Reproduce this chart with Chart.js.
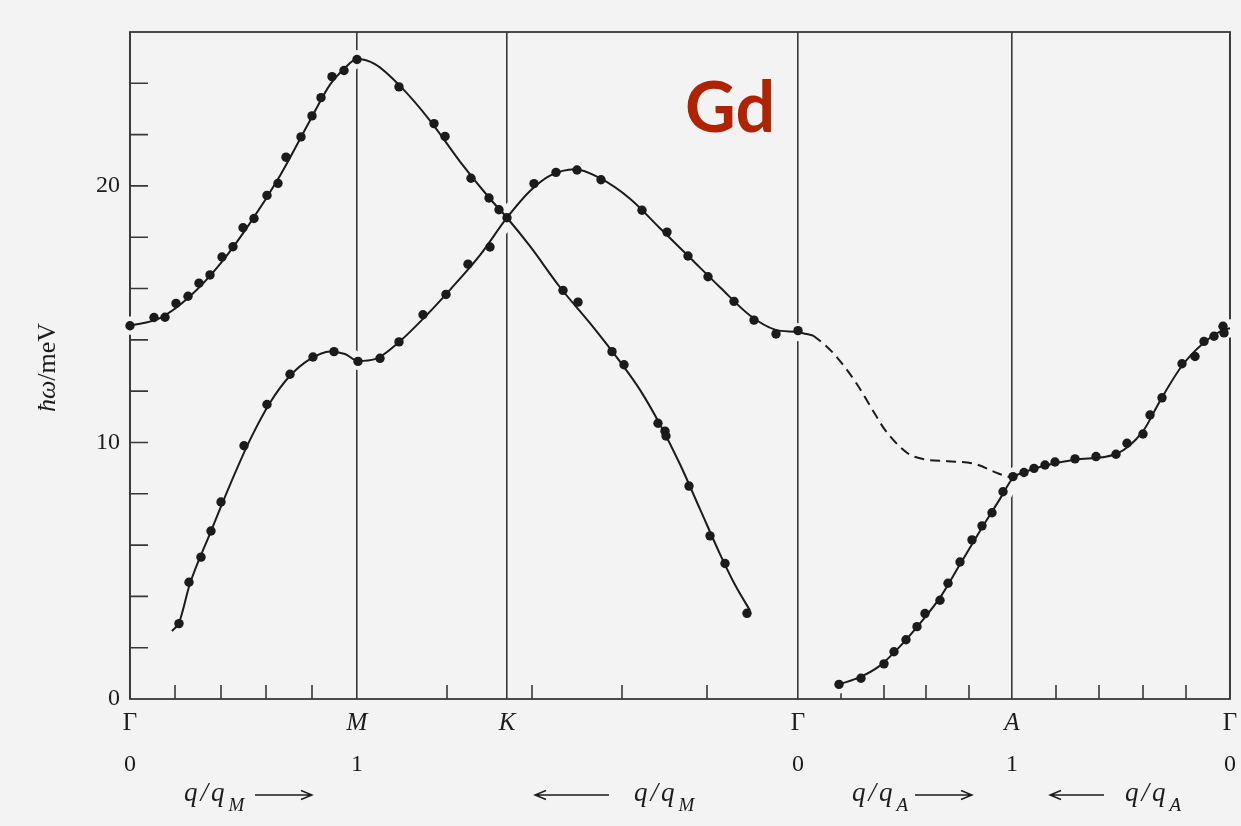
<!DOCTYPE html>
<html>
<head>
<meta charset="utf-8">
<title>Gd – phonon dispersion</title>
<script src="https://cdn.jsdelivr.net/npm/chart.js@4.4.1/dist/chart.umd.min.js"></script>
<style>
  html, body { margin: 0; padding: 0; background: #f3f3f3; }
  canvas { display: block; }
</style>
</head>
<body>
<canvas id="chart" width="1241" height="826"></canvas>
<script>
// Path coordinate s along Γ–M–K–Γ–A–Γ, energy ħω in meV.
const symPos   = [0, 2.27, 3.77, 6.68, 8.82, 11.0];
const symNames = ['Γ', 'M', 'K', 'Γ', 'A', 'Γ'];
const symQ     = ['0', '1', '', '0', '1', '0'];
const minorTicksX = [0.45, 0.91, 1.36, 1.82, 3.17, 4.02, 4.92, 5.77,
                     7.11, 7.54, 7.96, 8.39, 9.26, 9.69, 10.13, 10.56];
const yLabelled = [0, 10, 20];

// Upper band: Γ → M (peak) → K → towards Γ
const upperPts = [
  [0.00,14.55],[0.24,14.87],[0.35,14.88],[0.46,15.42],[0.58,15.70],[0.69,16.21],
  [0.80,16.53],[0.92,17.23],[1.03,17.63],[1.13,18.37],[1.24,18.73],[1.37,19.63],
  [1.48,20.10],[1.56,21.12],[1.71,21.91],[1.82,22.73],[1.91,23.44],[2.02,24.26],
  [2.14,24.50],[2.27,24.93],[2.69,23.86],[3.04,22.43],[3.15,21.93],[3.41,20.30],
  [3.59,19.53],[3.69,19.07],[3.77,18.76],[4.33,15.93],[4.48,15.47],[4.82,13.54],
  [4.94,13.03],[5.28,10.75],[5.35,10.44],[5.36,10.25],[5.59,8.30],[5.80,6.36],
  [5.95,5.28],[6.17,3.34]
];
const upperCurve = [
  [0,14.55],[0.3,14.85],[0.6,15.7],[0.9,16.95],[1.2,18.55],[1.5,20.4],[1.8,22.55],
  [2.0,23.95],[2.15,24.6],[2.27,24.95],[2.45,24.75],[2.7,23.9],[3.0,22.55],[3.3,20.95],
  [3.6,19.5],[3.77,18.76],[4.0,17.65],[4.3,16.05],[4.6,14.65],[4.9,13.15],[5.1,12.05],
  [5.3,10.7],[5.5,9.15],[5.7,7.4],[5.9,5.65],[6.05,4.45],[6.2,3.45]
];

// Lower band: acoustic rise from Γ, dip at M, maximum between K and Γ
const lowerPts = [
  [0.49,2.94],[0.59,4.55],[0.71,5.53],[0.81,6.55],[0.91,7.68],[1.14,9.87],[1.37,11.48],
  [1.60,12.66],[1.83,13.33],[2.04,13.54],[2.28,13.16],[2.50,13.28],[2.69,13.92],
  [2.93,14.98],[3.16,15.77],[3.38,16.95],[3.60,17.62],[4.04,20.09],[4.26,20.53],
  [4.47,20.62],[4.71,20.24],[5.12,19.05],[5.37,18.20],[5.58,17.27],[5.78,16.46],
  [6.04,15.50],[6.24,14.77],[6.46,14.23],[6.68,14.36]
];
const lowerCurve = [
  [0.42,2.65],[0.49,2.98],[0.6,4.5],[0.8,6.45],[1.0,8.35],[1.2,10.1],[1.4,11.55],[1.6,12.6],
  [1.8,13.25],[2.0,13.55],[2.15,13.45],[2.28,13.18],[2.45,13.25],[2.7,13.95],
  [2.95,14.9],[3.2,15.95],[3.5,17.3],[3.77,18.76],[4.0,19.8],[4.2,20.4],[4.45,20.65],
  [4.7,20.3],[5.0,19.5],[5.3,18.35],[5.6,17.2],[5.9,16.05],[6.2,14.95],[6.45,14.4],
  [6.68,14.3],[6.83,14.17]
];
// Continuation Γ → A without measured points
const dashedCurve = [
  [6.83,14.17],[6.95,13.8],[7.07,13.32],[7.27,12.27],[7.45,11.11],[7.55,10.49],
  [7.78,9.57],[7.95,9.34],[8.18,9.27],[8.45,9.16],[8.69,8.78],[8.82,8.62]
];

// Along the c axis: Γ → A → Γ
const axisPts = [
  [7.09,0.57],[7.31,0.81],[7.54,1.37],[7.64,1.84],[7.76,2.31],[7.87,2.82],[7.95,3.33],
  [8.10,3.85],[8.18,4.51],[8.30,5.34],[8.42,6.20],[8.52,6.75],[8.62,7.26],[8.73,8.08],
  [8.83,8.67],[8.94,8.83],[9.04,8.99],[9.15,9.12],[9.25,9.24],[9.45,9.36],[9.66,9.45],
  [9.86,9.54],[9.97,9.97],[10.13,10.33],[10.20,11.07],[10.32,11.74],[10.52,13.07],
  [10.65,13.35],[10.74,13.94],[10.84,14.14],[10.93,14.53],[10.94,14.27]
];
const axisCurve = [
  [7.09,0.57],[7.3,0.85],[7.5,1.3],[7.7,2.05],[7.9,2.95],[8.1,3.95],[8.3,5.25],
  [8.5,6.55],[8.7,7.8],[8.83,8.62],[8.95,8.85],[9.15,9.1],[9.45,9.33],[9.86,9.55],
  [10.13,10.44],[10.30,11.62],[10.52,12.99],[10.73,13.86],[10.93,14.38],[11.0,14.45]
];

const PAPER = '#f3f3f3';
const INK = '#1b1b1b';
const RULE = '#383838';
const SERIF = '"Liberation Serif", "DejaVu Serif", serif';

const xy = arr => arr.map(([x, y]) => ({ x, y }));

const curve = (data, extra) => Object.assign({
  data: xy(data), borderColor: INK, borderWidth: 2, pointRadius: 0,
  cubicInterpolationMode: 'monotone', fill: false, order: 10, clip: false
}, extra);
// paper-coloured band under each solid curve: interrupts the rules it crosses
const casing = data => curve(data, {
  borderColor: PAPER, borderWidth: 18, borderCapStyle: 'round', order: 20
});
const dots = data => ({
  data: xy(data), showLine: false, pointRadius: 4.7, pointHoverRadius: 4.7,
  pointBackgroundColor: INK, pointBorderWidth: 0, order: 1, clip: false
});

function drawArrow(ctx, x1, x2, yy) {
  const d = Math.sign(x2 - x1);
  ctx.beginPath();
  ctx.moveTo(x1, yy); ctx.lineTo(x2, yy);
  ctx.moveTo(x2 - d * 11, yy - 4.5); ctx.lineTo(x2, yy); ctx.lineTo(x2 - d * 11, yy + 4.5);
  ctx.stroke();
}

function drawQ(ctx, x0, base, sub) {
  ctx.textAlign = 'left';
  ctx.textBaseline = 'alphabetic';
  ctx.font = 'italic 27px ' + SERIF;
  ctx.letterSpacing = '3px';
  ctx.fillText('q/q', x0, base);
  const w = ctx.measureText('q/q').width;
  ctx.letterSpacing = '0px';
  ctx.font = 'italic 19px ' + SERIF;
  ctx.fillText(sub, x0 + w + 1, base + 10);
}

// [start of q/q text, subscript, arrow from, arrow to] in path units
const qLabels = [
  [0.54, 'M', 1.25, 1.82],
  [5.04, 'M', 4.79, 4.05],
  [7.22, 'A', 7.85, 8.42],
  [9.95, 'A', 9.74, 9.20]
];

const decor = {
  id: 'decor',
  beforeDraw(chart) {
    const { ctx, width, height } = chart;
    ctx.save();
    ctx.fillStyle = PAPER;
    ctx.fillRect(0, 0, width, height);
    ctx.restore();
  },
  beforeDatasetsDraw(chart) {
    const { ctx, chartArea: a, scales: { x, y } } = chart;
    ctx.save();
    ctx.strokeStyle = RULE;
    ctx.lineWidth = 1.8;
    ctx.strokeRect(a.left, a.top, a.right - a.left, a.bottom - a.top);
    ctx.lineWidth = 1.6;
    ctx.beginPath();
    minorTicksX.forEach(v => {
      const px = x.getPixelForValue(v);
      ctx.moveTo(px, a.bottom); ctx.lineTo(px, a.bottom - 14);
    });
    y.ticks.forEach(t => {
      if (t.value <= y.min || t.value >= y.max) return;
      const py = y.getPixelForValue(t.value);
      ctx.moveTo(a.left, py); ctx.lineTo(a.left + 18, py);
    });
    ctx.stroke();
    ctx.restore();
  },
  afterDraw(chart) {
    const { ctx, chartArea: a, scales: { x, y } } = chart;
    ctx.save();
    ctx.fillStyle = INK;
    ctx.strokeStyle = INK;

    // reduced wave vector at the zone points
    ctx.font = '24px ' + SERIF;
    ctx.textAlign = 'center';
    ctx.textBaseline = 'middle';
    symPos.forEach((v, i) => {
      if (symQ[i]) ctx.fillText(symQ[i], x.getPixelForValue(v), a.bottom + 66);
    });

    // direction labels q/q_M, q/q_A with arrows
    ctx.lineWidth = 1.4;
    const arrowY = a.bottom + 96;
    qLabels.forEach(([s0, sub, f, t]) => {
      drawQ(ctx, x.getPixelForValue(s0), arrowY + 6, sub);
      drawArrow(ctx, x.getPixelForValue(f), x.getPixelForValue(t), arrowY);
    });

    // vertical axis title ħω/meV
    ctx.save();
    ctx.translate(48, (a.top + a.bottom) / 2 + 2);
    ctx.rotate(-Math.PI / 2);
    ctx.textBaseline = 'middle';
    ctx.textAlign = 'left';
    const fItal = 'italic 26px ' + SERIF, fUp = '26px ' + SERIF;
    ctx.font = fItal; const w1 = ctx.measureText('ħω').width;
    ctx.font = fUp;   const w2 = ctx.measureText('/meV').width;
    const x0 = -(w1 + w2) / 2;
    ctx.font = fItal; ctx.fillText('ħω', x0, 0);
    ctx.font = fUp;   ctx.fillText('/meV', x0 + w1, 0);
    ctx.restore();

    // element label
    ctx.fillStyle = '#b02300';
    ctx.font = 'bold 70px "Comic Sans MS", Lato, sans-serif';
    ctx.textAlign = 'left';
    ctx.textBaseline = 'alphabetic';
    ctx.fillText('Gd', x.getPixelForValue(5.55), y.getPixelForValue(22.1));
    ctx.restore();
  }
};

new Chart(document.getElementById('chart'), {
  type: 'line',
  data: {
    datasets: [
      casing(upperCurve), casing(lowerCurve), casing(axisCurve),
      curve(upperCurve), curve(lowerCurve), curve(axisCurve),
      curve(dashedCurve, { borderDash: [10, 6] }),
      dots(upperPts), dots(lowerPts), dots(axisPts)
    ]
  },
  options: {
    responsive: false,
    animation: false,
    devicePixelRatio: 1,
    layout: { padding: { top: 32, right: 11, left: 0, bottom: 0 } },
    plugins: { legend: { display: false }, tooltip: { enabled: false } },
    events: [],
    scales: {
      x: {
        type: 'linear', min: 0, max: 11,
        afterBuildTicks: s => { s.ticks = symPos.map(v => ({ value: v })); },
        afterFit: s => { s.height = 127; s.paddingLeft = 0; s.paddingRight = 0; },
        grid: { color: RULE, lineWidth: 1.6, drawTicks: false, drawOnChartArea: true },
        border: { display: false },
        ticks: {
          autoSkip: false, maxRotation: 0, padding: 9, color: INK,
          callback: (v, i) => symNames[i],
          font: c => ({ family: SERIF, size: 25,
                        style: symNames[c.index] === 'Γ' ? 'normal' : 'italic' })
        }
      },
      y: {
        type: 'linear', min: 0, max: 26,
        afterFit: s => { s.width = 130; },
        grid: { drawOnChartArea: false, drawTicks: false },
        border: { display: false },
        ticks: {
          stepSize: 2, autoSkip: false, padding: 10, color: INK,
          font: { family: SERIF, size: 24 },
          callback: v => (yLabelled.includes(v) ? String(v) : '')
        }
      }
    }
  },
  plugins: [decor]
});
</script>
</body>
</html>
